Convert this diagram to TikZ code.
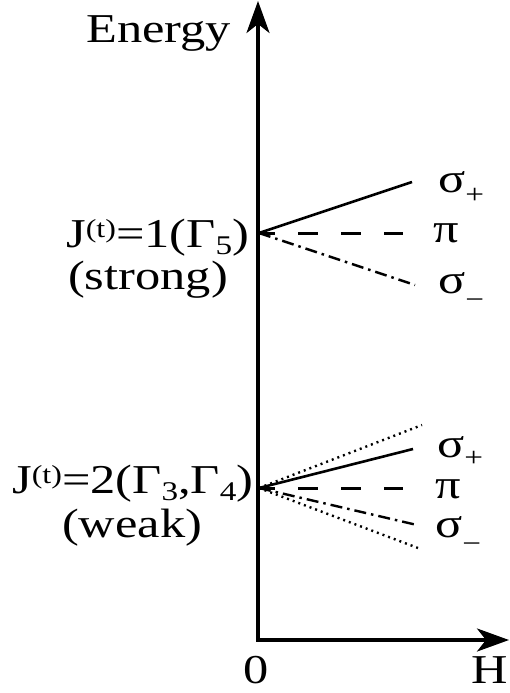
\documentclass[tikz,border=0pt]{standalone}
\usepackage{fontspec}
\setmainfont{Liberation Serif}[FakeStretch=1.23]
\usetikzlibrary{arrows.meta}
\newcommand\lowsub[1]{\raisebox{-7pt}[0pt][0pt]{\fontsize{27}{27}\selectfont #1}}
\newcommand\highsup[1]{\raisebox{10pt}[0pt][0pt]{\fontsize{26}{26}\selectfont #1}}
\newcommand\sigsub[2]{σ\raisebox{#1}[0pt][0pt]{\fontsize{27}{27}\selectfont #2}}
\begin{document}
\begin{tikzpicture}[x=1pt,y=-1pt,
  lab/.style={inner sep=0pt, text height=29pt, text depth=7pt, font=\fontsize{41}{44}\selectfont},
  axis/.style={line width=3.5pt, -{Stealth[length=32pt,width=23pt,inset=9pt]}},
  solidlvl/.style={line width=2.6pt},
  dashlvl/.style={line width=3pt, dash pattern=on 20pt off 23pt, dash phase=4pt},
  dashdotlvl/.style={line width=2.4pt, dash pattern=on 12pt off 5pt on 2.5pt off 5pt},
  dotlvl/.style={line width=2.4pt, dash pattern=on 2pt off 4pt}]
\useasboundingbox (0,0) rectangle (509,693);
% axes
\coordinate (O) at (258,640);
\coordinate (Etop) at (258,1);
\coordinate (Hend) at (509,640);
\draw[axis] ([yshift=1.75pt]O) -- (Etop);
\draw[axis] ([xshift=-1.75pt]O) -- (Hend);
\node[lab, anchor=base west] (energy) at (86,43) {Energy};
\node[lab, anchor=base] (zero) at (256,683) {0};
\node[lab, anchor=base east] (hlab) at (508,683) {H};
% upper level
\coordinate (A) at (259,233);
\coordinate (Asp) at (412,182);
\coordinate (Api) at (403,233);
\coordinate (Asm) at (415,285);
\draw[solidlvl] (A) -- (Asp);
\draw[dashlvl] (A) -- (Api);
\draw[dashdotlvl] (A) -- (Asm);
\node[lab, anchor=base west] (j1) at (66,247) {J\highsup{(t)}=1(Γ\lowsub{5})};
\node[lab, anchor=base west] (strong) at (68,289) {(strong)};
\node[lab, anchor=base west] (usp) at (438,192) {\sigsub{-11pt}{+}};
\node[lab, anchor=base west] (upi) at (433,242) {π};
\node[lab, anchor=base west] (usm) at (438,293) {\sigsub{-15pt}{−}};
% lower level
\coordinate (B) at (259,488);
\coordinate (Bdu) at (422,425);
\coordinate (Bsp) at (413,449);
\coordinate (Bpi) at (403,488);
\coordinate (Bsm) at (417,525);
\coordinate (Bdl) at (418,548);
\draw[dotlvl] (B) -- (Bdu);
\draw[solidlvl] (B) -- (Bsp);
\draw[dashlvl] (B) -- (Bpi);
\draw[dashdotlvl] (B) -- (Bsm);
\draw[dotlvl] (B) -- (Bdl);
\node[lab, anchor=base west] (j2) at (12,493) {J\highsup{(t)}=2(Γ\lowsub{3},Γ\lowsub{4})};
\node[lab, anchor=base west] (weak) at (62,537) {(weak)};
\node[lab, anchor=base west] (lsp) at (437,457) {\sigsub{-9pt}{+}};
\node[lab, anchor=base west] (lpi) at (435,498) {π};
\node[lab, anchor=base west] (lsm) at (435,537) {\sigsub{-15pt}{−}};
\end{tikzpicture}
\end{document}
